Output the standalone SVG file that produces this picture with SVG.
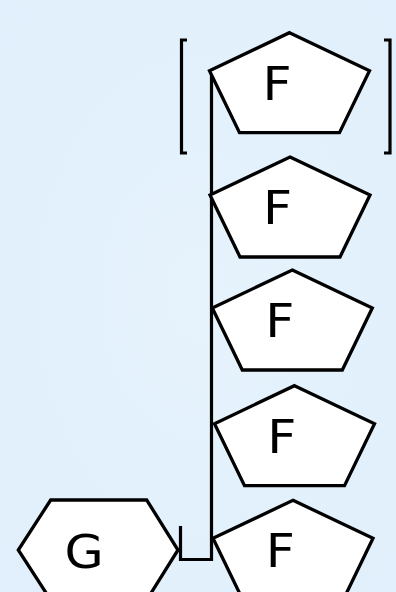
<svg xmlns="http://www.w3.org/2000/svg" width="396" height="592" viewBox="0 0 396 592">
<defs>
<radialGradient id="bg" cx="50%" cy="50%" r="75%">
<stop offset="0" stop-color="#E6F3FD"/>
<stop offset="1" stop-color="#E0EFFB"/>
</radialGradient>
<polygon id="pent" points="0,0 80,38 50,100 -50,100 -80,38"/>
</defs>
<style>
.shape{fill:#ffffff;stroke:#000000;stroke-width:3.3;stroke-linejoin:miter}
.lbl{font-family:"DejaVu Sans","Verdana",sans-serif;font-size:46px;fill:#000000;text-anchor:middle}
.line{fill:none;stroke:#000000;stroke-width:3.2}
</style>
<rect width="396" height="592" fill="url(#bg)"/>
<g id="connectors">
<path class="line" d="M211.5 70 V559.5 H180.5 V526"/>
<path class="line" d="M187 40 H181.5 V153 H187"/>
<path class="line" d="M384 40 H390 V153 H384"/>
</g>
<g id="F1">
<use href="#pent" class="shape" transform="translate(289.5,32.7)"/>
<text class="lbl" transform="translate(277,99.5) scale(1.1,1)">F</text>
</g>
<g id="F2">
<use href="#pent" class="shape" transform="translate(290,157)"/>
<text class="lbl" transform="translate(277.5,223.8) scale(1.1,1)">F</text>
</g>
<g id="F3">
<use href="#pent" class="shape" transform="translate(292.3,270)"/>
<text class="lbl" transform="translate(279.7,337) scale(1.1,1)">F</text>
</g>
<g id="F4">
<use href="#pent" class="shape" transform="translate(294.5,385.7)"/>
<text class="lbl" transform="translate(281.9,453) scale(1.1,1)">F</text>
</g>
<g id="F5">
<use href="#pent" class="shape" transform="translate(293,500.3)"/>
<text class="lbl" transform="translate(280.4,567.3) scale(1.1,1)">F</text>
</g>
<g id="G">
<polygon class="shape" points="50.7,500 146.7,500 178,550 146.7,600 50.7,600 18.3,550"/>
<text class="lbl" transform="translate(84,567.5) scale(1.1,1)">G</text>
</g>
</svg>
